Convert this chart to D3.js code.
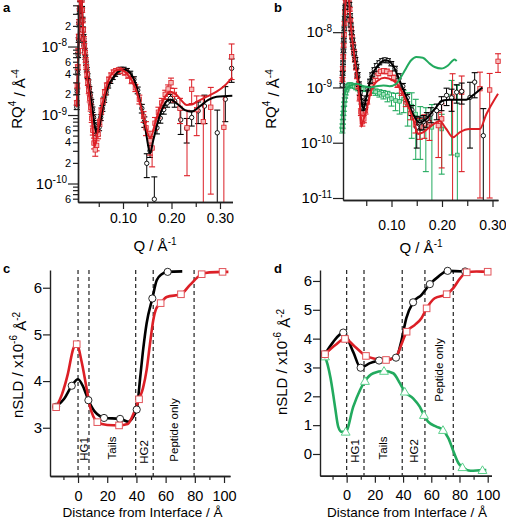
<!DOCTYPE html>
<html><head><meta charset="utf-8">
<script src="https://cdn.jsdelivr.net/npm/d3@7"></script>
<style>
body{margin:0;background:#fff;}
svg{font-family:"Liberation Sans",Arial,Helvetica,sans-serif;}
</style></head><body>
<svg id="chart" width="506" height="520"></svg>
<script>
// ---------- DATA ----------
// Panel a: [Q, RQ4] fits and [Q, RQ4, err] data
const aBlackFit = [[0.0046,1.3e-9],[0.006,3.0e-9],[0.0075,7e-9],[0.009,1.6e-8],[0.0105,3.2e-8],[0.0113,4.8e-8],[0.013,6e-8],[0.015,4.5e-8],[0.0165,2.6e-8],[0.018,1.6e-8],[0.02,1.1e-8],[0.0216,8.9e-9],[0.025,4.5e-9],[0.0285,2.9e-9],[0.032,2.07e-9],[0.0365,1.3e-9],[0.0409,7.6e-10],[0.0457,5.4e-10],[0.0526,7.6e-10],[0.058,1.25e-9],[0.0629,1.85e-9],[0.07,2.7e-9],[0.0766,3.24e-9],[0.0903,4.3e-9],[0.102,4.6e-9],[0.11,4.4e-9],[0.118,3.84e-9],[0.125,3.0e-9],[0.1316,2.07e-9],[0.137,1.4e-9],[0.142,9.5e-10],[0.147,5.8e-10],[0.151,3.86e-10],[0.1557,2.76e-10],[0.1625,4.3e-10],[0.173,8.5e-10],[0.183,1.32e-9],[0.1934,1.66e-9],[0.198,1.68e-9],[0.2107,1.48e-9],[0.2278,1.18e-9],[0.2416,1.12e-9],[0.2588,1.35e-9],[0.276,1.66e-9],[0.293,1.85e-9],[0.3254,1.91e-9]];
const aRedFit = [[0.0046,1.3e-9],[0.006,3e-9],[0.0075,7e-9],[0.009,1.6e-8],[0.0105,3.2e-8],[0.0113,4.8e-8],[0.013,6e-8],[0.015,4.5e-8],[0.0165,2.6e-8],[0.018,1.6e-8],[0.02,1.05e-8],[0.0216,8.3e-9],[0.025,4.2e-9],[0.0285,2.5e-9],[0.032,1.5e-9],[0.0365,7.5e-10],[0.0409,3.45e-10],[0.0445,4.2e-10],[0.0491,6.5e-10],[0.054,1.1e-9],[0.0595,1.66e-9],[0.066,2.6e-9],[0.0732,3.63e-9],[0.08,4.2e-9],[0.087,4.54e-9],[0.095,4.6e-9],[0.104,4.3e-9],[0.112,3.7e-9],[0.1213,2.9e-9],[0.128,2.2e-9],[0.135,1.48e-9],[0.141,1.0e-9],[0.1474,6.7e-10],[0.1557,4.57e-10],[0.16,5.2e-10],[0.166,7.6e-10],[0.173,1.1e-9],[0.1798,1.48e-9],[0.188,1.9e-9],[0.197,2.19e-9],[0.2107,1.96e-9],[0.22,1.65e-9],[0.2313,1.4e-9],[0.242,1.42e-9],[0.252,1.56e-9],[0.2726,1.85e-9],[0.293,2.19e-9],[0.31,2.7e-9],[0.3254,3.55e-9]];
const aBlackData = [[0.0046,1.3e-9,1e-10],[0.0055,2.2e-9,2e-10],[0.0065,4.2e-9,3.5e-10],[0.0075,7.5e-9,6e-10],[0.0085,1.25e-8,1e-9],[0.0095,2.1e-8,1.6e-9],[0.0105,3.3e-8,2.5e-9],[0.0115,4.8e-8,3e-9],[0.0125,5.8e-8,4e-9],[0.0135,6e-8,4e-9],[0.0145,5e-8,3.5e-9],[0.0155,3.6e-8,2.5e-9],[0.0165,2.5e-8,1.8e-9],[0.0175,1.8e-8,1.3e-9],[0.0186,1.4e-8,1e-9],[0.0197,1.1e-8,8e-10],[0.021,8.8e-9,6e-10],[0.0224,7.0e-9,5e-10],[0.0238,5.7e-9,4e-10],[0.0254,4.6e-9,3.5e-10],[0.027,3.7e-9,3e-10],[0.0288,3.0e-9,2.5e-10],[0.0306,2.4e-9,2e-10],[0.0326,1.95e-9,1.7e-10],[0.0347,1.55e-9,1.4e-10],[0.037,1.2e-9,1.1e-10],[0.0394,9.2e-10,9e-11],[0.042,7.0e-10,7e-11],[0.0447,5.6e-10,6e-11],[0.0476,5.6e-10,6e-11],[0.0507,6.6e-10,7e-11],[0.054,9.2e-10,9e-11],[0.0575,1.25e-9,1.2e-10],[0.0612,1.68e-9,1.5e-10],[0.0652,2.15e-9,1.8e-10],[0.0694,2.7e-9,2.2e-10],[0.0739,3.15e-9,2.6e-10],[0.0787,3.6e-9,3e-10],[0.0838,4.0e-9,3.3e-10],[0.0893,4.3e-9,3.5e-10],[0.0951,4.6e-9,3.8e-10],[0.1013,4.6e-9,3.8e-10],[0.1079,4.4e-9,3.8e-10],[0.1149,4.0e-9,3.6e-10],[0.1224,3.3e-9,3.2e-10],[0.1303,2.3e-9,2.6e-10],[0.1388,1.25e-9,1.8e-10],[0.144,8.0e-10,1.4e-10],[0.149,1.97e-10,7.5e-11],[0.1557,3.0e-10,6e-11],[0.1646,5.9e-11,6.6e-11],[0.17,6.5e-10,1.2e-10],[0.177,9.0e-10,1.4e-10],[0.184,1.2e-9,1.7e-10],[0.191,1.5e-9,2e-10],[0.198,1.75e-9,2.5e-10],[0.2065,1.6e-9,3e-10],[0.219,8.5e-10,3.3e-10],[0.2313,6.4e-10,2.5e-10],[0.2416,9.2e-10,2.3e-10],[0.255,1.15e-9,4e-10],[0.268,1.35e-9,6e-10],[0.2944,5.5e-10,6.3e-10],[0.311,1.7e-9,9e-10],[0.324,4.8e-9,1.8e-9]];
const aRedData = [[0.0048,1.5e-9,1.2e-10],[0.0058,2.7e-9,2.2e-10],[0.0068,5e-9,4e-10],[0.0078,8.6e-9,7e-10],[0.0088,1.4e-8,1.1e-9],[0.0098,2.3e-8,1.8e-9],[0.0108,3.6e-8,2.8e-9],[0.0118,5e-8,4e-9],[0.0128,5.8e-8,4e-9],[0.0138,5.8e-8,4e-9],[0.0148,4.8e-8,3.5e-9],[0.0158,3.4e-8,2.5e-9],[0.0168,2.4e-8,1.8e-9],[0.0178,1.75e-8,1.3e-9],[0.019,1.3e-8,1e-9],[0.0202,1.02e-8,8e-10],[0.0215,8.2e-9,6e-10],[0.0229,6.4e-9,5e-10],[0.0243,5.0e-9,4e-10],[0.0259,3.9e-9,3.5e-10],[0.0276,3.0e-9,3e-10],[0.0294,2.3e-9,2.5e-10],[0.0313,1.75e-9,2e-10],[0.0333,1.3e-9,1.6e-10],[0.0355,9.0e-10,1.2e-10],[0.0378,6.0e-10,9e-11],[0.0402,3.9e-10,7e-11],[0.0428,3.1e-10,6e-11],[0.0456,3.6e-10,6e-11],[0.0486,5.2e-10,7e-11],[0.0518,7.8e-10,9e-11],[0.0552,1.15e-9,1.2e-10],[0.0588,1.6e-9,1.6e-10],[0.0626,2.15e-9,2e-10],[0.0667,2.7e-9,2.4e-10],[0.0711,3.3e-9,2.8e-10],[0.0757,3.8e-9,3.2e-10],[0.0806,4.2e-9,3.5e-10],[0.0859,4.4e-9,3.7e-10],[0.0915,4.5e-9,3.8e-10],[0.0975,4.4e-9,3.8e-10],[0.1038,4.2e-9,3.8e-10],[0.1106,3.8e-9,3.6e-10],[0.1178,3.2e-9,3.3e-10],[0.1255,2.5e-9,3e-10],[0.1337,1.7e-9,2.5e-10],[0.1424,9.5e-10,1.7e-10],[0.1474,6.5e-10,1.5e-10],[0.1557,4.2e-10,1.6e-10],[0.16,3.3e-10,1.55e-10],[0.166,7.6e-10,1.6e-10],[0.173,1.1e-9,2e-10],[0.18,1.5e-9,2.5e-10],[0.187,2.0e-9,3e-10],[0.193,2.4e-9,3.5e-10],[0.199,2.96e-9,5e-10],[0.206,2.0e-9,4.5e-10],[0.2175,1.25e-9,5e-10],[0.232,6.5e-10,5.2e-10],[0.2416,2.37e-9,9e-10],[0.252,1.2e-9,7e-10],[0.2656,8.0e-10,1.1e-9],[0.281,1.3e-9,1.23e-9],[0.308,6.6e-10,1.2e-9],[0.324,7.1e-9,3.8e-9]];

// Panel b
const bBlackFit = [[0.0026,1.2e-9],[0.0045,4e-9],[0.0065,1.2e-8],[0.0085,3e-8],[0.011,6e-8],[0.014,6e-8],[0.0165,3.3e-8],[0.019,1.5e-8],[0.0212,9.5e-9],[0.0245,5.5e-9],[0.0277,3.55e-9],[0.031,2.3e-9],[0.0343,1.4e-9],[0.0396,6.7e-10],[0.0445,4.0e-10],[0.0502,6.7e-10],[0.06,1.54e-9],[0.0733,2.5e-9],[0.0865,3.1e-9],[0.095,3.0e-9],[0.103,2.5e-9],[0.116,1.34e-9],[0.1294,6.7e-10],[0.1426,3.3e-10],[0.1558,2.3e-10],[0.169,2.7e-10],[0.1855,4.1e-10],[0.202,5.8e-10],[0.215,6.0e-10],[0.248,6.0e-10],[0.261,7.2e-10],[0.28,1.0e-9]];
const bRedFit = [[0.0026,1.2e-9],[0.0045,4e-9],[0.0065,1.2e-8],[0.0085,3e-8],[0.011,6e-8],[0.014,6e-8],[0.0165,3.3e-8],[0.019,1.5e-8],[0.0212,9e-9],[0.0245,5e-9],[0.0277,3.0e-9],[0.031,1.8e-9],[0.0343,1.0e-9],[0.0375,4.8e-10],[0.0402,1.95e-10],[0.045,2.7e-10],[0.05,3.8e-10],[0.06,8.8e-10],[0.0733,1.34e-9],[0.0865,1.5e-9],[0.103,1.34e-9],[0.1195,8.8e-10],[0.1327,4.7e-10],[0.146,2.2e-10],[0.1525,1.44e-10],[0.1624,1.54e-10],[0.175,1.9e-10],[0.1954,2.44e-10],[0.2085,1.77e-10],[0.2218,1.25e-10],[0.235,1.54e-10],[0.255,1.77e-10],[0.2746,1.77e-10],[0.288,3.3e-10],[0.311,7.7e-10]];
const bGreenFit = [[0.0035,3e-10],[0.006,6.5e-10],[0.01,9e-10],[0.016,1.05e-9],[0.021,1.1e-9],[0.031,1.17e-9],[0.045,1.05e-9],[0.0574,1.0e-9],[0.07,1.05e-9],[0.084,1.09e-9],[0.096,1.05e-9],[0.1096,1.17e-9],[0.118,1.5e-9],[0.126,2.0e-9],[0.139,3.1e-9],[0.149,3.55e-9],[0.162,3.45e-9],[0.1756,2.7e-9],[0.1855,2.34e-9],[0.1987,2.2e-9],[0.212,2.5e-9],[0.225,3.2e-9],[0.229,3.0e-9]];
const bBlackData = [[0.0026,1.1e-9,9e-11],[0.0033,1.8e-9,1.4e-10],[0.004,2.8e-9,2.2e-10],[0.0048,4.6e-9,3.5e-10],[0.0056,7.2e-9,5.5e-10],[0.0065,1.15e-8,9e-10],[0.0075,1.8e-8,1.4e-9],[0.0087,2.8e-8,2.2e-9],[0.01,4.2e-8,3e-9],[0.0115,5.5e-8,4e-9],[0.013,5.8e-8,4e-9],[0.015,4.5e-8,3.5e-9],[0.0165,3.2e-8,2.5e-9],[0.018,2.0e-8,1.6e-9],[0.0195,1.35e-8,1.1e-9],[0.021,9.8e-9,8e-10],[0.0227,7.2e-9,6e-10],[0.0245,5.4e-9,4.5e-10],[0.0265,4.1e-9,3.5e-10],[0.0285,3.2e-9,2.8e-10],[0.0307,2.4e-9,2.2e-10],[0.033,1.7e-9,1.6e-10],[0.0355,1.15e-9,1.1e-10],[0.038,8e-10,8e-11],[0.0408,5.6e-10,6e-11],[0.0437,4.3e-10,5e-11],[0.0468,4.5e-10,5e-11],[0.0501,6.4e-10,6e-11],[0.0537,9.5e-10,8e-11],[0.0575,1.3e-9,1.1e-10],[0.0616,1.7e-9,1.4e-10],[0.066,2.1e-9,1.7e-10],[0.0707,2.5e-9,2e-10],[0.0757,2.8e-9,2.3e-10],[0.0811,3.05e-9,2.5e-10],[0.0868,3.15e-9,2.6e-10],[0.093,3.05e-9,2.6e-10],[0.0996,2.7e-9,2.4e-10],[0.1067,2.2e-9,2.1e-10],[0.1143,1.6e-9,1.7e-10],[0.1224,1.05e-9,1.3e-10],[0.1311,6.5e-10,1e-10],[0.1404,3.9e-10,8e-11],[0.15,1.9e-10,1.1e-10],[0.156,2.3e-10,6e-11],[0.163,2.4e-10,7e-11],[0.17,2.7e-10,8e-11],[0.178,3.3e-10,1e-10],[0.1895,3.8e-10,1.2e-10],[0.199,5.3e-10,1.5e-10],[0.209,7.2e-10,2.5e-10],[0.219,6.5e-10,2.8e-10],[0.229,8.2e-10,3e-10],[0.239,8.5e-10,3.5e-10],[0.2554,6.6e-10,5.8e-10],[0.2647,1.25e-9,6e-10],[0.2818,1.34e-10,2.8e-10]];
const bRedData = [[0.0029,1.4e-9,1.1e-10],[0.0036,2.2e-9,1.7e-10],[0.0044,3.6e-9,2.8e-10],[0.0052,5.8e-9,4.5e-10],[0.006,9e-9,7e-10],[0.007,1.45e-8,1.1e-9],[0.0081,2.3e-8,1.8e-9],[0.0093,3.5e-8,2.6e-9],[0.0107,4.9e-8,3.5e-9],[0.0122,5.8e-8,4e-9],[0.014,5.3e-8,4e-9],[0.0157,3.8e-8,3e-9],[0.0172,2.6e-8,2e-9],[0.0187,1.65e-8,1.3e-9],[0.0202,1.15e-8,9e-10],[0.0218,8.2e-9,7e-10],[0.0236,6e-9,5e-10],[0.0255,4.4e-9,4e-10],[0.0275,3.2e-9,3e-10],[0.0296,2.3e-9,2.2e-10],[0.0318,1.6e-9,1.6e-10],[0.0342,1.05e-9,1.1e-10],[0.0367,6.5e-10,8e-11],[0.0394,3.6e-10,5e-11],[0.0422,2.4e-10,4e-11],[0.0452,2.7e-10,4e-11],[0.0485,3.8e-10,5e-11],[0.052,5.6e-10,6e-11],[0.0558,8e-10,8e-11],[0.0598,1.05e-9,1e-10],[0.0641,1.35e-9,1.3e-10],[0.0687,1.6e-9,1.5e-10],[0.0737,1.8e-9,1.7e-10],[0.079,1.95e-9,1.8e-10],[0.0847,2.0e-9,1.9e-10],[0.0908,1.95e-9,1.9e-10],[0.0973,1.8e-9,1.8e-10],[0.1043,1.5e-9,1.7e-10],[0.1118,1.15e-9,1.5e-10],[0.1198,8.5e-10,1.3e-10],[0.1284,5.5e-10,1e-10],[0.1376,3.4e-10,8e-11],[0.1475,2.1e-10,6e-11],[0.156,1.95e-10,8e-11],[0.165,2.2e-10,1e-10],[0.175,2.3e-10,1.2e-10],[0.1927,2.04e-10,1.5e-10],[0.1994,2.7e-10,2.35e-10],[0.221,6.7e-10,1.1e-9],[0.239,8.2e-10,7.9e-10],[0.2752,9.5e-10,9.4e-10],[0.2944,9e-10,8.9e-10],[0.311,2.97e-9,1.1e-9]];
const bGreenData = [[0.0026,1.7e-10,2e-11],[0.0031,2.0e-10,2e-11],[0.0036,2.4e-10,2.5e-11],[0.0042,2.9e-10,3e-11],[0.0048,3.4e-10,3e-11],[0.0055,4.1e-10,4e-11],[0.0063,5.0e-10,4e-11],[0.0072,6.0e-10,5e-11],[0.0082,7.0e-10,6e-11],[0.0094,8.0e-10,7e-11],[0.0107,9.0e-10,7e-11],[0.0122,9.8e-10,8e-11],[0.0139,1.05e-9,8e-11],[0.0158,1.1e-9,9e-11],[0.018,1.12e-9,9e-11],[0.0205,1.1e-9,9e-11],[0.0233,1.08e-9,9e-11],[0.0265,1.05e-9,9e-11],[0.03,1.0e-9,9e-11],[0.034,9.6e-10,9e-11],[0.0385,9.3e-10,9e-11],[0.0435,9.4e-10,9e-11],[0.049,9.5e-10,1e-10],[0.055,9.2e-10,1e-10],[0.0615,8.8e-10,1e-10],[0.0685,8.3e-10,1.1e-10],[0.076,7.9e-10,1.2e-10],[0.084,7.5e-10,1.3e-10],[0.092,7.0e-10,1.5e-10],[0.1,6.3e-10,1.7e-10],[0.108,5.8e-10,2e-10],[0.116,5.6e-10,2.3e-10],[0.124,6.2e-10,2.7e-10],[0.132,5.0e-10,3e-10],[0.14,4.6e-10,3.4e-10],[0.148,3.3e-10,2.8e-10],[0.157,2.5e-10,2e-10],[0.168,2.3e-10,2e-10],[0.18,1.9e-10,3e-10],[0.1994,1.77e-10,1.5e-10],[0.219,7e-10,6.4e-10],[0.2304,6e-11,1.03e-9]];

// Panel c: [distance, nSLD]
const cBlackLine = [[-15,3.45],[-9.5,3.62],[-4.3,3.9],[0,4.04],[3.5,3.88],[7.1,3.59],[11.6,3.34],[15,3.25],[17.8,3.21],[28.8,3.19],[34.5,3.13],[37.9,3.24],[40.2,3.39],[42.5,4.05],[44.7,4.7],[47,5.24],[50.9,5.77],[53.9,6.16],[57.3,6.29],[61.4,6.34],[71.4,6.35]];
const cBlackPts = [[-15,3.45],[-4.3,3.9],[7.1,3.59],[17.8,3.21],[28.8,3.19],[40.2,3.39],[50.9,5.77],[61.4,6.34]];
const cRedLine = [[-15,3.44],[-11.2,3.7],[-7,4.15],[-3.2,4.7],[-0.9,4.79],[2.5,4.41],[5.9,3.84],[8.2,3.45],[10.5,3.24],[13.2,3.12],[20,3.06],[28.1,3.05],[34,3.08],[38,3.3],[41.8,3.61],[44.5,3.85],[47,4.24],[49.3,4.8],[51.5,5.3],[53.5,5.55],[56.6,5.67],[60.7,5.8],[70.5,5.86],[76.7,6.06],[84.7,6.29],[90,6.33],[99,6.34],[103,6.34]];
const cRedPts = [[-15,3.44],[-0.9,4.79],[13.2,3.12],[28.1,3.05],[41.8,3.61],[56.6,5.67],[70.5,5.86],[84.7,6.29],[99,6.34]];
const cBounds = [0,7.5,39.5,51.5,79.5];
const zoneNames = ["HG1","Tails","HG2","Peptide only"];

// Panel d
const dBlackLine = [[-15.4,3.46],[-9.6,3.88],[-2.4,4.21],[4.7,3.53],[9.9,2.99],[16.5,3.15],[23,3.24],[35,3.34],[38.7,3.9],[42.3,4.71],[47.1,5.26],[53.1,5.52],[59,5.89],[65,6.15],[71.6,6.35],[84,6.33]];
const dBlackPts = [[-15.4,3.46],[-2.4,4.21],[9.9,2.99],[23,3.24],[35,3.34],[47.1,5.26],[59,5.89],[71.6,6.35],[84,6.33]];
const dRedLine = [[-15.4,3.46],[-8,3.78],[-1.2,3.99],[5.7,3.73],[13.7,3.4],[20.1,3.3],[27.9,3.26],[34.9,3.37],[38.7,3.78],[42.5,4.24],[48.2,4.47],[53,4.71],[56.7,5.05],[62.4,5.4],[70.9,5.54],[75.6,5.75],[80.4,6.09],[85.1,6.3],[92,6.33],[100,6.32],[102,6.32]];
const dRedPts = [[-15.4,3.46],[-1.2,3.99],[13.7,3.4],[27.9,3.26],[42.5,4.24],[56.7,5.05],[70.9,5.54],[85.1,6.3],[100,6.32]];
const dGreenLine = [[-15.4,3.38],[-13.5,3.1],[-11.5,2.65],[-9.5,2.05],[-8,1.55],[-6,0.95],[-3.6,0.77],[-0.7,0.77],[4.7,1.64],[9.5,2.22],[13,2.53],[18.9,2.8],[26.5,2.88],[33,2.8],[37.8,2.45],[41.2,2.16],[47.1,1.93],[51.8,1.64],[54.8,1.35],[57.7,1.12],[63.6,0.95],[68.3,0.83],[72.2,0.54],[75.8,0.08],[79.3,-0.32],[82.1,-0.46],[87.9,-0.58],[96.3,-0.56],[99,-0.56]];
const dGreenPts = [[-15.4,3.38],[-0.7,0.77],[13,2.53],[26.5,2.88],[41.2,2.16],[54.8,1.35],[68.3,0.83],[82.1,-0.46],[96.3,-0.56]];
const dBounds = [0,12.3,39.4,55.5,75.6];

// ---------- STYLE ----------
const RED = "#dc1f26", GREEN = "#22aa5e", BLK = "#000";
const svg = d3.select("#chart");
const defs = svg.append("defs");
function clip(id, x, y, w, h){ defs.append("clipPath").attr("id",id).append("rect").attr("x",x).attr("y",y).attr("width",w).attr("height",h); return "url(#"+id+")"; }

function styleAxis(g, fs){
  g.attr("font-family",null).attr("font-size",fs);
  g.select(".domain").attr("stroke","#222").attr("stroke-width",1.4);
  g.selectAll(".tick line").attr("stroke","#222").attr("stroke-width",1.2);
  g.selectAll(".tick text").attr("fill","#000");
}
function sup(textSel, parts, supSize){
  parts.forEach(p=>{
    if(typeof p === "string") textSel.append("tspan").text(p);
    else textSel.append("tspan").attr("dy",p[1]).attr("font-size",p[2]||supSize).text(p[0]);
  });
}

function drawData(g, data, x, y, color, marker, mfill, mstroke){
  const ybot = y.range()[0], ymin = y.domain()[0];
  const gg = g.append("g");
  const cap = 3;
  gg.selectAll("line.bar").data(data).join("line")
    .attr("x1",d=>x(d[0])).attr("x2",d=>x(d[0]))
    .attr("y1",d=>y(d[1]+d[2]))
    .attr("y2",d=>(d[1]-d[2])>ymin ? y(d[1]-d[2]) : ybot)
    .attr("stroke",color).attr("stroke-width",1);
  gg.selectAll("line.caphi").data(data).join("line")
    .attr("x1",d=>x(d[0])-cap).attr("x2",d=>x(d[0])+cap)
    .attr("y1",d=>y(d[1]+d[2])).attr("y2",d=>y(d[1]+d[2]))
    .attr("stroke",color).attr("stroke-width",1.1);
  gg.selectAll("line.caplo").data(data.filter(d=>(d[1]-d[2])>ymin)).join("line")
    .attr("x1",d=>x(d[0])-cap).attr("x2",d=>x(d[0])+cap)
    .attr("y1",d=>y(d[1]-d[2])).attr("y2",d=>y(d[1]-d[2]))
    .attr("stroke",color).attr("stroke-width",1.1);
  const pts = data.filter(d=>d[1]>ymin);
  if(marker==="circle"){
    gg.selectAll("circle").data(pts).join("circle")
      .attr("cx",d=>x(d[0])).attr("cy",d=>y(d[1])).attr("r",2.2)
      .attr("fill",mfill).attr("stroke",mstroke).attr("stroke-width",0.9);
  } else {
    const s = marker==="square" ? 4.4 : 3.6;
    gg.selectAll("rect").data(pts).join("rect")
      .attr("x",d=>x(d[0])-s/2).attr("y",d=>y(d[1])-s/2).attr("width",s).attr("height",s)
      .attr("fill",mfill).attr("stroke",mstroke).attr("stroke-width",0.8);
  }
}
function drawFit(g, data, x, y, color, w){
  g.append("path").datum(data)
   .attr("d", d3.line().x(d=>x(d[0])).y(d=>y(d[1])).curve(d3.curveMonotoneX))
   .attr("fill","none").attr("stroke",color).attr("stroke-width",w).attr("stroke-linejoin","round");
}

// ---------- log axes helper ----------
function logYAxis(x0, y, minorLabels, fsMajor){
  const [lo,hi] = y.domain();
  const majors = [], minors = [];
  for(let e=-12;e<=-7;e++){
    const v = Math.pow(10,e);
    if(v>=lo && v<=hi) majors.push(v);
    for(let m=2;m<=9;m++){ const mv=m*v; if(mv>=lo && mv<=hi) minors.push(mv); }
  }
  if(minorLabels){
    const gm = svg.append("g").attr("transform",`translate(${x0},0)`)
      .call(d3.axisLeft(y).tickValues(minors).tickSize(5).tickSizeOuter(0).tickPadding(2)
        .tickFormat(d=>{ const m=Math.round(d/Math.pow(10,Math.floor(Math.log10(d)+1e-9))); return (m===2||m===4||m===6)&&y(d)>12 ? String(m) : ""; }));
    styleAxis(gm, "11px");
  }
  const g = svg.append("g").attr("transform",`translate(${x0},0)`)
    .call(d3.axisLeft(y).tickValues(majors).tickSize(10).tickSizeOuter(0).tickPadding(1).tickFormat(()=>""));
  styleAxis(g, fsMajor);
  g.selectAll(".tick text").each(function(d){
    const t = d3.select(this); t.text(null);
    sup(t, ["10", ["-"+Math.round(-Math.log10(d)), "-0.55em"]], "10px");
  });
  return g;
}

// ========== PANEL A ==========
const xA = d3.scaleLinear().domain([0.0072,0.3258]).range([78,232.5]);
const yA = d3.scaleLog().domain([5.37e-11,4.04e-8]).range([202,5]);
const gA = svg.append("g").attr("clip-path", clip("ca",70,0,168,202));
drawData(gA, aBlackData, xA, yA, BLK, "circle", "#fff", BLK);
drawData(gA, aRedData, xA, yA, RED, "square", "#f6b9b9", RED);
drawFit(gA, aBlackFit, xA, yA, BLK, 2);
drawFit(gA, aRedFit, xA, yA, RED, 2);
logYAxis(78, yA, true, "15px");
let gx = svg.append("g").attr("transform","translate(0,202)")
  .call(d3.axisBottom(xA).tickValues([0.05,0.15,0.25]).tickSize(5).tickSizeOuter(0).tickFormat(""));
styleAxis(gx,"14px");
gx = svg.append("g").attr("transform","translate(0,202)")
  .call(d3.axisBottom(xA).tickValues([0.1,0.2,0.3]).tickSize(7).tickSizeOuter(0).tickPadding(4).tickFormat(d3.format(".2f")));
styleAxis(gx,"14px");

// ========== PANEL B ==========
const xB = d3.scaleLinear().domain([0.00396,0.3109]).range([343,498]);
const yB = d3.scaleLog().domain([9.2e-12,3.37e-8]).range([200,3]);
const gB = svg.append("g").attr("clip-path", clip("cb",339,0,162,200));
drawData(gB, bGreenData, xB, yB, GREEN, "tri", "#a6e3bd", GREEN);
drawData(gB, bRedData, xB, yB, RED, "square", "#f6b9b9", RED);
drawData(gB, bBlackData, xB, yB, BLK, "circle", "#fff", BLK);
drawFit(gB, bBlackFit, xB, yB, BLK, 2);
drawFit(gB, bRedFit, xB, yB, RED, 2);
drawFit(gB, bGreenFit, xB, yB, GREEN, 2);
logYAxis(343, yB, false, "15px");
gx = svg.append("g").attr("transform","translate(0,200)")
  .call(d3.axisBottom(xB).tickValues([0.05,0.15,0.25]).tickSize(6).tickSizeOuter(0).tickFormat(""));
styleAxis(gx,"14px");
gx = svg.append("g").attr("transform","translate(0,200)")
  .call(d3.axisBottom(xB).tickValues([0.1,0.2,0.3]).tickSize(7).tickSizeOuter(0).tickPadding(13).tickFormat(d3.format(".2f")));
styleAxis(gx,"14px");

// ========== PANELS C, D ==========
const xC = d3.scaleLinear().domain([-19.2,104.1]).range([50,230]);
const yC = d3.scaleLinear().domain([1.966,6.38]).range([476,270]);
const xD = d3.scaleLinear().domain([-18.9,102.7]).range([320,491.5]);
const yD = d3.scaleLinear().domain([-0.753,6.38]).range([475.7,270]);

function sldPanel(x, y, bounds, yticks, lines, labelY){
  const [x0] = x.range(); const ybot = y.range()[0], ytop = y.range()[1];
  svg.append("g").selectAll("line").data(bounds).join("line")
    .attr("x1",d=>x(d)).attr("x2",d=>x(d)).attr("y1",ytop).attr("y2",ybot)
    .attr("stroke","#222").attr("stroke-width",1.2).attr("stroke-dasharray","4,3");
  svg.append("g").selectAll("text").data(zoneNames).join("text")
    .attr("transform",(d,i)=>`translate(${x((bounds[i]+bounds[i+1])/2)},${labelY[i]}) rotate(-90)`)
    .attr("text-anchor","middle").attr("dominant-baseline","central")
    .attr("font-size","11.5px").text(d=>d);
  lines.forEach(L=>{
    svg.append("path").datum(L.line)
      .attr("d", d3.line().x(d=>x(d[0])).y(d=>y(d[1])).curve(d3.curveMonotoneX))
      .attr("fill","none").attr("stroke",L.color).attr("stroke-width",2.6).attr("stroke-linejoin","round");
  });
  lines.forEach(L=>{
    const g = svg.append("g");
    if(L.marker==="circle"){
      g.selectAll("circle").data(L.pts).join("circle").attr("cx",d=>x(d[0])).attr("cy",d=>y(d[1])).attr("r",3.6)
        .attr("fill","#fff").attr("stroke","#111").attr("stroke-width",0.9);
    } else if(L.marker==="square"){
      g.selectAll("rect").data(L.pts).join("rect").attr("x",d=>x(d[0])-3.3).attr("y",d=>y(d[1])-3.3).attr("width",6.6).attr("height",6.6)
        .attr("fill","#fff").attr("stroke","#e2545a").attr("stroke-width",1);
    } else {
      g.selectAll("path").data(L.pts).join("path")
        .attr("d",d3.symbol(d3.symbolTriangle,34))
        .attr("transform",d=>`translate(${x(d[0])},${y(d[1])+0.8})`)
        .attr("fill","#fff").attr("stroke","#5cd08c").attr("stroke-width",1);
    }
  });
  let g = svg.append("g").attr("transform",`translate(${x0},0)`)
    .call(d3.axisLeft(y).tickValues(yticks).tickSize(7).tickSizeOuter(0).tickPadding(1).tickFormat(d3.format("d")));
  styleAxis(g,"15px");
  g = svg.append("g").attr("transform",`translate(0,${ybot})`)
    .call(d3.axisBottom(x).tickValues([-10,10,30,50,70,90]).tickSize(4).tickSizeOuter(0).tickFormat(""));
  styleAxis(g,"14px");
  g = svg.append("g").attr("transform",`translate(0,${ybot})`)
    .call(d3.axisBottom(x).tickValues([0,20,40,60,80,100]).tickSize(7).tickSizeOuter(0).tickPadding(7.5).tickFormat(d3.format("d")));
  styleAxis(g,"14.5px");
}
sldPanel(xC, yC, cBounds, [3,4,5,6], [
  {line:cBlackLine, pts:cBlackPts, color:BLK, marker:"circle"},
  {line:cRedLine, pts:cRedPts, color:RED, marker:"square"}
], [449,448,452,430]);
sldPanel(xD, yD, dBounds, [0,1,2,3,4,5,6], [
  {line:dGreenLine, pts:dGreenPts, color:GREEN, marker:"tri"},
  {line:dBlackLine, pts:dBlackPts, color:BLK, marker:"circle"},
  {line:dRedLine, pts:dRedPts, color:RED, marker:"square"}
], [451,448,451,370]);

// ---------- TITLES ----------
function titleText(x, y, rotate, parts, fs){
  const t = svg.append("text")
    .attr("transform",`translate(${x},${y})` + (rotate ? " rotate(-90)" : ""))
    .attr("text-anchor","middle").attr("font-size",fs).attr("fill","#000");
  sup(t, parts, "10px");
  return t;
}
const RQ = ["RQ",["4","-0.6em"],[" / Å","0.6em","15px"],["-4","-0.6em"]];
const QT = ["Q / Å",["-1","-0.6em"]];
const SLD = ["nSLD / x10",["-6","-0.6em"],[" Å","0.6em","15px"],["-2","-0.6em"]];
titleText(22, 99, true, RQ, "15px");
titleText(276, 99, true, RQ, "15px");
titleText(155, 251, false, QT, "15px");
titleText(421, 253, false, QT, "15px");
titleText(23, 365, true, SLD, "15px");
titleText(287, 362, true, SLD, "15px");
titleText(142.5, 517, false, ["Distance from Interface / Å"], "13.5px");
titleText(407, 517, false, ["Distance from Interface / Å"], "13.5px");

// panel letters
const letters = ["a","b","c","d"];
const letterPos = [[3,12],[274,12],[3,273],[274,273]];
svg.append("g").selectAll("text").data(letters).join("text")
  .attr("x",(d,i)=>letterPos[i][0]).attr("y",(d,i)=>letterPos[i][1])
  .attr("font-size","13px").attr("font-weight","bold").text(d=>d);
</script>
</body></html>
